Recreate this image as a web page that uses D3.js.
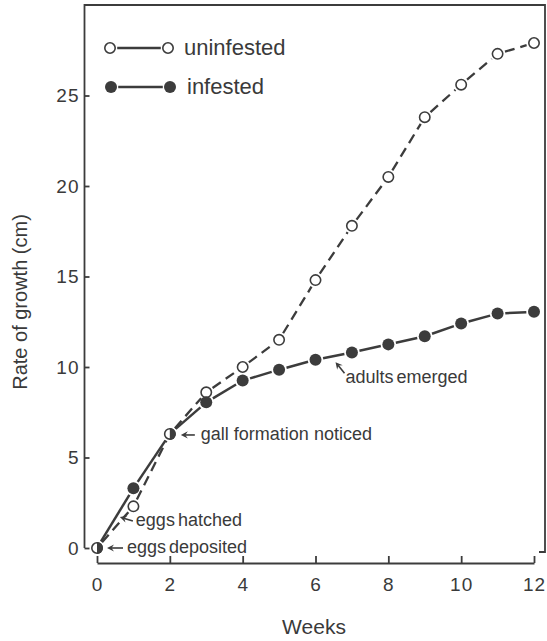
<!DOCTYPE html>
<html>
<head>
<meta charset="utf-8">
<script src="https://cdn.jsdelivr.net/npm/d3@7"></script>
<style>
  html, body { margin: 0; padding: 0; background: #fff; }
  svg { display: block; }
  text { font-family: "Liberation Sans", Arial, Helvetica, sans-serif; fill: #3a3a3a; }
</style>
</head>
<body>
<svg id="chart" width="547" height="641"></svg>
<script>
const weeks = [0, 1, 2, 3, 4, 5, 6, 7, 8, 9, 10, 11, 12];
const uninfested = [0, 2.3, 6.3, 8.6, 10.0, 11.5, 14.8, 17.8, 20.5, 23.8, 25.6, 27.3, 27.9];
const infested = [0, 3.3, 6.3, 8.05, 9.25, 9.85, 10.4, 10.8, 11.25, 11.7, 12.4, 12.95, 13.05];
const xTicks = [0, 2, 4, 6, 8, 10, 12];
const yTicks = [0, 5, 10, 15, 20, 25];
const seriesNames = ["uninfested", "infested"];
const annotations = [
  { label: "gall formation noticed", week: 2, value: 6.3 },
  { label: "adults emerged", week: 6.55, value: 10.6 },
  { label: "eggs hatched", week: 0.6, value: 1.6 },
  { label: "eggs deposited", week: 0, value: 0 }
];

const ink = "#3c3c3c";
const svg = d3.select("#chart");
const x = d3.scaleLinear().domain([0, 12]).range([97, 534]);
const y = d3.scaleLinear().domain([0, 25]).range([548, 95.5]);

const frameLeft = 84.5, frameRight = 545, frameTop = 5, axisY = 563;

// frame lines (top, left, right)
svg.append("path")
  .attr("d", `M${frameLeft},${y(0)}V${frameTop}H${frameRight}V552H539`)
  .attr("fill", "none").attr("stroke", ink).attr("stroke-width", 1.8);

// bottom axis
const gx = svg.append("g").attr("transform", `translate(0,${axisY})`)
  .call(d3.axisBottom(x).tickValues(xTicks).tickSizeInner(-7).tickSizeOuter(0).tickPadding(15));
gx.select(".domain").attr("stroke", ink).attr("stroke-width", 1.8);
gx.selectAll(".tick line").attr("stroke", ink).attr("stroke-width", 1.8);
gx.selectAll(".tick text").style("font-size", "19px").attr("letter-spacing", "1px")
  .attr("fill", "#3a3a3a").attr("font-family", "Liberation Sans, Arial, sans-serif");

// left axis
const gy = svg.append("g").attr("transform", `translate(${frameLeft},0)`)
  .call(d3.axisLeft(y).tickValues(yTicks).tickSizeInner(-5).tickSizeOuter(0).tickPadding(5));
gy.select(".domain").remove();
gy.selectAll(".tick line").attr("stroke", ink).attr("stroke-width", 1.8);
gy.selectAll(".tick text").style("font-size", "19px").attr("letter-spacing", "1px")
  .attr("fill", "#3a3a3a").attr("font-family", "Liberation Sans, Arial, sans-serif");

// axis titles
svg.append("text").attr("x", 314).attr("y", 634)
  .attr("text-anchor", "middle").style("font-size", "21px").text("Weeks");
svg.append("text").attr("transform", `translate(27,${(frameTop + axisY) / 2 + 18}) rotate(-90)`)
  .attr("text-anchor", "middle").style("font-size", "20px").text("Rate of growth (cm)");

const r = 5.2;
function segments(vals) {
  const pts = weeks.map((w, i) => [x(w), y(vals[i])]);
  const segs = [];
  for (let i = 0; i < pts.length - 1; i++) {
    const [x0, y0] = pts[i], [x1, y1] = pts[i + 1];
    const dx = x1 - x0, dy = y1 - y0, L = Math.hypot(dx, dy);
    const g = r + 2.5;
    segs.push([x0 + dx / L * g, y0 + dy / L * g, x1 - dx / L * g, y1 - dy / L * g]);
  }
  return segs;
}

// uninfested dashed
svg.append("g").selectAll("line").data(segments(uninfested)).join("line")
  .attr("x1", d => d[0]).attr("y1", d => d[1]).attr("x2", d => d[2]).attr("y2", d => d[3])
  .attr("stroke", ink).attr("stroke-width", 2.3).attr("stroke-dasharray", "10,6");
// infested solid
svg.append("g").selectAll("line").data(segments(infested)).join("line")
  .attr("x1", d => d[0]).attr("y1", d => d[1]).attr("x2", d => d[2]).attr("y2", d => d[3])
  .attr("stroke", ink).attr("stroke-width", 2.5);

// markers
const shared = weeks.filter((w, i) => uninfested[i] === infested[i]);
svg.append("g").selectAll("circle")
  .data(weeks.map((w, i) => ({ w, v: uninfested[i] })).filter(d => !shared.includes(d.w)))
  .join("circle").attr("cx", d => x(d.w)).attr("cy", d => y(d.v)).attr("r", r)
  .attr("fill", "#fff").attr("stroke", ink).attr("stroke-width", 1.6);
svg.append("g").selectAll("circle")
  .data(weeks.map((w, i) => ({ w, v: infested[i] })).filter(d => !shared.includes(d.w)))
  .join("circle").attr("cx", d => x(d.w)).attr("cy", d => y(d.v)).attr("r", r + 0.8)
  .attr("fill", ink);
// half-filled shared points
const half = svg.append("g").selectAll("g")
  .data(weeks.map((w, i) => ({ w, v: infested[i] })).filter(d => shared.includes(d.w)))
  .join("g").attr("transform", d => `translate(${x(d.w)},${y(d.v)})`);
half.append("circle").attr("r", r).attr("fill", "#fff").attr("stroke", ink).attr("stroke-width", 1.6);
half.append("path").attr("d", `M0,${-r - 0.8}A${r + 0.8},${r + 0.8} 0 0,1 0,${r + 0.8}Z`).attr("fill", ink);

// annotations with arrows
function arrow(x1, y1, x2, y2) {
  const a = Math.atan2(y2 - y1, x2 - x1);
  const g = svg.append("g");
  g.append("line").attr("x1", x1).attr("y1", y1).attr("x2", x2 - Math.cos(a) * 4).attr("y2", y2 - Math.sin(a) * 4)
    .attr("stroke", ink).attr("stroke-width", 1.6);
  const L = 7, W = 3.6;
  const bx = x2 - Math.cos(a) * L, by = y2 - Math.sin(a) * L;
  g.append("path")
    .attr("d", `M${x2},${y2}L${bx - Math.sin(a) * W},${by + Math.cos(a) * W}L${bx + Math.cos(a) * 2.5},${by + Math.sin(a) * 2.5}L${bx + Math.sin(a) * W},${by - Math.cos(a) * W}Z`)
    .attr("fill", ink);
}
const annFont = "18px";
{
  const a = annotations[0], px = x(a.week), py = y(a.value);
  arrow(px + 25, py + 1, px + 11, py + 1);
  svg.append("text").attr("x", px + 31).attr("y", py + 6).style("font-size", annFont).text(a.label);
}
{
  const a = annotations[1], px = x(a.week), py = y(a.value);
  arrow(px + 9, py + 17, px, py + 6);
  svg.append("text").attr("x", px + 10).attr("y", py + 27).style("font-size", annFont).attr("word-spacing", "-2px").text(a.label);
}
{
  const a = annotations[2], px = x(a.week), py = y(a.value);
  arrow(px + 14, py + 2, px + 1, py - 2);
  svg.append("text").attr("x", px + 17).attr("y", py + 7).style("font-size", annFont).attr("word-spacing", "-2px").text(a.label);
}
{
  const a = annotations[3], px = x(a.week), py = y(a.value);
  arrow(px + 26, py, px + 10, py);
  svg.append("text").attr("x", px + 30).attr("y", py + 5).style("font-size", annFont).attr("word-spacing", "-2px").text(a.label);
}

// legend
const legend = svg.append("g");
const legRows = [{ name: seriesNames[0], y: 48, x0: 110, x1: 168, tx: 184, open: true },
                 { name: seriesNames[1], y: 87, x0: 111, x1: 170, tx: 187, open: false }];
legRows.forEach(row => {
  legend.append("line").attr("x1", row.x0 + r + 2).attr("x2", row.x1 - r - 2)
    .attr("y1", row.y).attr("y2", row.y).attr("stroke", ink).attr("stroke-width", 2.6);
  [row.x0, row.x1].forEach(cx => {
    if (row.open) legend.append("circle").attr("cx", cx).attr("cy", row.y).attr("r", r)
      .attr("fill", "#fff").attr("stroke", ink).attr("stroke-width", 1.6);
    else legend.append("circle").attr("cx", cx).attr("cy", row.y).attr("r", r + 0.8).attr("fill", ink);
  });
  legend.append("text").attr("x", row.tx).attr("y", row.y + 7).style("font-size", "22px").text(row.name);
});
</script>
</body>
</html>
